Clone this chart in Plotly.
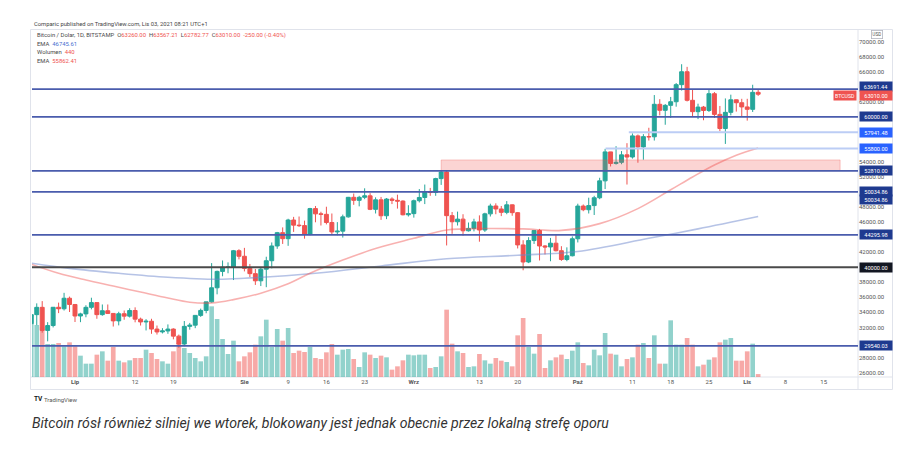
import plotly.graph_objects as go
import pandas as pd

# ---------------- data ----------------
dates = pd.date_range("2021-06-23", "2021-11-03", freq="D")

opens = [
    32500, 33700, 34670, 31600, 32250, 34680, 34480, 35880,
    35050, 33520, 33800, 34670, 35300, 33700, 34220, 33860, 32870, 33820, 33500, 34250, 33100, 32730, 32820, 31780,
    31400, 31530, 31780, 30840, 29790, 32140, 32300, 33600, 34260, 35400, 37270, 39450, 40000, 40030, 42200,
    41460, 39850, 39150, 38200, 39740, 40870, 42830, 44600, 43800, 46280, 45600, 45540, 44400, 47800, 47100, 47040,
    45950, 44700, 44800, 46700, 49300, 48900, 49300, 49500, 47700, 48970, 46850, 49070, 48900, 48800, 46980,
    47130, 48850, 49280, 50030, 49940, 51790, 52660, 46860, 46050, 46400, 44850, 45170, 46030, 44950, 47100, 48150,
    47750, 47300, 48300, 47260, 42970, 40700, 43550, 44890, 42830, 42700, 43200, 42200, 41030, 41530,
    43790, 48140, 47650, 48200, 49240, 51490, 55340, 53800, 53950, 54950, 54660, 57470, 56000, 57370, 57350, 61670,
    60870, 61530, 62010, 64280, 66000, 62200, 60690, 61300, 60850, 63080, 60330, 58450, 60600, 62270, 61880,
    61320, 61000, 63260,
]
highs = [
    34880, 35200, 35500, 32700, 34700, 35300, 36600, 36100,
    35050, 33950, 34950, 35950, 35300, 35050, 35050, 33900, 34080, 34250, 34550, 34670, 33300, 33100, 33150, 32250,
    31900, 32400, 31880, 31050, 32850, 32600, 33620, 34500, 35400, 40550, 39550, 40900, 40650, 42300, 42400,
    42580, 40440, 39780, 39950, 41400, 43300, 44700, 45300, 46450, 46700, 46750, 46200, 47900, 48150, 47380, 48050,
    47150, 46000, 47000, 49350, 49800, 49500, 50500, 49850, 49300, 49350, 49200, 49300, 49650, 48900, 48250,
    49000, 50400, 51000, 50550, 51900, 52800, 52900, 47350, 47400, 47050, 45950, 46450, 46900, 47250, 48450, 48500,
    48150, 48800, 48350, 47350, 43600, 44000, 44950, 45100, 42950, 43900, 44350, 42800, 42650, 44100,
    48450, 48350, 49250, 49500, 51900, 55750, 55350, 56100, 55450, 56500, 57800, 57650, 57700, 58550, 62900,
    62350, 61700, 62650, 64500, 67000, 66650, 63700, 61750, 61450, 63700, 63300, 61450, 62450, 62950, 62300, 62400,
    62400, 64270, 63567.21,
]
lows = [
    31700, 32300, 31300, 30150, 32000, 33900, 34250, 34050,
    32720, 32700, 33350, 34400, 33150, 33550, 33780, 32120, 32270, 33020, 33320, 32680, 32250, 31600, 31150, 31050,
    31200, 31150, 30420, 29300, 29500, 31700, 31900, 33400, 33880, 35300, 36400, 38800, 39200, 38300, 41050,
    39450, 38700, 37650, 37500, 37350, 39850, 42450, 43100, 42850, 44700, 45350, 43800, 44250, 45980, 45550, 45700,
    44400, 44250, 43950, 46600, 48300, 48100, 49050, 47600, 47150, 46300, 46400, 48400, 47800, 46900, 46750,
    46600, 48620, 48400, 49500, 49500, 50950, 42900, 44450, 45550, 44200, 44750, 44770, 43400, 44700, 46750, 47050,
    46800, 47050, 46850, 42500, 39600, 40550, 43100, 40900, 41700, 40800, 42100, 40850, 40800, 41450,
    43300, 47450, 47150, 46950, 49050, 50400, 53400, 53650, 53700, 51000, 54450, 53900, 54300, 56850, 56850,
    60200, 58950, 59850, 61350, 63500, 62050, 60000, 59700, 59550, 60650, 59850, 58100, 56400, 60200, 60700, 60000,
    59500, 60650, 62782.77,
]
closes = [
    33700, 34670, 31600, 32250, 34680, 34480, 35880, 35050,
    33520, 33800, 34670, 35300, 33700, 34220, 33860, 32870, 33820, 33500, 34250, 33100, 32730, 32820, 31780, 31400,
    31530, 31780, 30840, 29790, 32140, 32300, 33600, 34260, 35400, 37270, 39450, 40000, 40030, 42200, 41460,
    39850, 39150, 38200, 39740, 40870, 42830, 44600, 43800, 46280, 45600, 45540, 44400, 47800, 47100, 47040, 45950,
    44700, 44800, 46700, 49300, 48900, 49300, 49500, 47700, 48970, 46850, 49070, 48900, 48800, 46980, 47130,
    48850, 49280, 50030, 49940, 51790, 52660, 46860, 46050, 46400, 44850, 45170, 46030, 44950, 47100, 48150, 47750,
    47300, 48300, 47260, 42970, 40700, 43550, 44890, 42830, 42700, 43200, 42200, 41030, 41530, 43790,
    48140, 47650, 48200, 49240, 51490, 55340, 53800, 53950, 54950, 54660, 57470, 56000, 57370, 57350, 61670,
    60870, 61530, 62010, 64280, 66000, 62200, 60690, 61300, 60850, 63080, 60330, 58450, 60600, 62270, 61880, 61320,
    61000, 63260, 63010,
]
volumes = [
    8000, 7800, 7500, 4950, 4950, 5100, 4600, 5200,
    4600, 3200, 2000, 2000, 3350, 3850, 2450, 4500, 2450, 2200, 2500, 2850, 2850, 4100, 3600, 2700,
    2350, 2000, 3850, 5100, 4350, 3600, 2850, 2350, 3100, 10600, 8700, 5700, 3450, 5450, 2350,
    3100, 3700, 4850, 6100, 8600, 4500, 7200, 5450, 7350, 3600, 3950, 3750, 4500, 2850, 2700, 3700,
    4950, 3350, 4100, 4200, 2700, 1500, 3700, 3350, 2850, 3200, 2950, 1100, 1600, 2500, 3350,
    3250, 3350, 3350, 1350, 1500, 3100, 10100, 5000, 3850, 3600, 1500, 1600, 3450, 2500, 2000, 2850,
    2450, 2250, 1600, 6250, 8850, 4500, 3500, 6450, 1350, 2500, 2950, 3350, 2700, 3950,
    5200, 2100, 1750, 4100, 3250, 6600, 3500, 3350, 1600, 2700, 2950, 4850, 5100, 2850, 6250,
    2000, 2000, 8500, 4850, 4850, 5850, 4850, 1600, 1850, 2600, 2950, 5200, 5600, 5850, 2450, 2450,
    3850, 5000, 440,
]

ema_blue_dates = ["2021-06-23", "2021-06-30", "2021-07-09", "2021-07-18", "2021-07-27", "2021-08-01",
                  "2021-08-14", "2021-08-26", "2021-09-07", "2021-09-20", "2021-10-01", "2021-10-14",
                  "2021-10-23", "2021-11-03"]
ema_blue_values = [40550, 39850, 39200, 38670, 38400, 38530, 39200, 40170, 41140, 41600, 42100, 43850,
                   45100, 46745.61]
ema_red_dates = ["2021-06-23", "2021-06-28", "2021-07-03", "2021-07-08", "2021-07-13", "2021-07-18",
                 "2021-07-22", "2021-07-26", "2021-07-30", "2021-08-04", "2021-08-09", "2021-08-13",
                 "2021-08-19", "2021-08-25", "2021-09-01", "2021-09-07", "2021-09-14", "2021-09-21",
                 "2021-09-28", "2021-10-05", "2021-10-12", "2021-10-18", "2021-10-22", "2021-10-26",
                 "2021-10-30", "2021-11-03"]
ema_red_values = [40400, 39200, 38300, 37500, 36700, 35900, 35350, 35250, 35700, 36550, 37800, 39200,
                  40950, 42500, 43850, 44950, 45150, 45100, 44900, 45800, 47800, 50300, 52000, 53600,
                  54900, 55862.41]

# horizontal levels
level_values = [63691.44, 60000.00, 57941.48, 55800.00, 52810.00, 50034.86, 44295.98, 40000.00, 29540.03]
level_kinds = ["dark", "dark", "light", "light", "dark", "dark", "dark", "black", "dark"]
level_starts = [None, None, "2021-10-10 08:00", "2021-10-06 02:00", None, None, None, None, None]
label_shifts = [2.5, 0, 0, 0, 0, 0, 0, 0, 0]
zone_x = ["2021-09-06", "2021-11-18"]
zone_y = [52840, 54270]
last_price = 63010.00

x_tick_dates = ["2021-07-01", "2021-07-12", "2021-07-19", "2021-08-01", "2021-08-09", "2021-08-16",
                "2021-08-23", "2021-09-01", "2021-09-13", "2021-09-20", "2021-10-01", "2021-10-11",
                "2021-10-18", "2021-10-25", "2021-11-01", "2021-11-08", "2021-11-15"]
x_tick_text = ["<b>Lip</b>", "12", "19", "<b>Sie</b>", "9", "16", "23", "<b>Wrz</b>", "13", "20",
               "<b>Paź</b>", "11", "18", "25", "<b>Lis</b>", "8", "15"]
y_tick_vals = [26000, 28000, 32000, 34000, 36000, 38000, 42000, 46000, 48000, 52000, 54000, 62000,
               66000, 68000, 70000]

# ---------------- layout geometry ----------------
WPX, HPX = 913, 451
L, R, T, B = 32, 55, 30, 74
PW = WPX - L - R
PH = HPX - T - B


def fx(p):
    return (p - L) / PW


def fy(p):
    return 1 - (p - T) / PH


UP = "#26a69a"
DN = "#ef5350"
FONT = "Roboto"

vol_colors = ["rgba(38,166,154,0.5)" if c >= o else "rgba(239,83,80,0.5)" for o, c in zip(opens, closes)]

fig = go.Figure()
fig.add_trace(go.Bar(x=dates, y=volumes, marker=dict(color=vol_colors, line=dict(width=0)),
                     yaxis="y", showlegend=False, hoverinfo="skip"))
fig.add_trace(go.Scatter(x=pd.to_datetime(ema_blue_dates), y=ema_blue_values, yaxis="y2", mode="lines",
                         line=dict(color="rgba(110,135,205,0.5)", width=1.6, shape="spline"),
                         showlegend=False, hoverinfo="skip"))
fig.add_trace(go.Scatter(x=pd.to_datetime(ema_red_dates), y=ema_red_values, yaxis="y2", mode="lines",
                         line=dict(color="rgba(239,83,80,0.45)", width=1.6, shape="spline"),
                         showlegend=False, hoverinfo="skip"))
fig.add_trace(go.Candlestick(x=dates, open=opens, high=highs, low=lows, close=closes, yaxis="y2",
                             increasing=dict(line=dict(color=UP, width=1), fillcolor=UP),
                             decreasing=dict(line=dict(color=DN, width=1), fillcolor=DN),
                             whiskerwidth=0, showlegend=False))

x_range = [pd.Timestamp("2021-06-23 03:10"), pd.Timestamp("2021-11-21 06:30")]
y_range = [25407, 71550]

shapes = []
annotations = []

# pink resistance zone
shapes.append(dict(type="rect", xref="x", yref="y2", x0=zone_x[0], x1=zone_x[1], y0=zone_y[0], y1=zone_y[1],
                   fillcolor="rgba(239,83,80,0.25)", line=dict(color="rgba(239,83,80,0.3)", width=1),
                   layer="above"))

line_styles = {
    "dark": dict(color="#4a5cad", width=1.8),
    "light": dict(color="#bccdf5", width=2),
    "black": dict(color="#4a4a4a", width=2),
}
label_bg = {"dark": "#1e3a8f", "light": "#2962ff", "black": "#131722"}

for val, kind, start in zip(level_values, level_kinds, level_starts):
    if start is None:
        shapes.append(dict(type="line", xref="paper", yref="y2", x0=0, x1=1, y0=val, y1=val,
                           line=line_styles[kind], layer="above"))
    else:
        shapes.append(dict(type="line", xref="x", yref="y2", x0=start, x1=x_range[1], y0=val, y1=val,
                           line=line_styles[kind], layer="above"))


def price_label(val, bg, yshift=0):
    return dict(xref="paper", x=1, xanchor="left", xshift=1, yref="y2", y=val, yanchor="middle",
                yshift=yshift, text=f"{val:.2f}", showarrow=False, bgcolor=bg, width=31, height=8,
                borderpad=0.5, font=dict(family=FONT, size=5.6, color="white"))


for val, kind, ys in zip(level_values, level_kinds, label_shifts):
    annotations.append(price_label(val, label_bg[kind], yshift=ys))
# second stacked label at the 50034.86 level
annotations.append(price_label(level_values[5], label_bg["dark"], yshift=-8))
# current price
annotations.append(price_label(last_price, DN, yshift=-1))
annotations.append(dict(xref="paper", x=1, xanchor="right", xshift=-1, yref="y2", y=last_price,
                        yanchor="middle", yshift=-1, text="BTCUSD", showarrow=False, bgcolor=DN, width=21,
                        height=8, borderpad=0.5, font=dict(family=FONT, size=5.2, color="white")))
# USD box
annotations.append(dict(xref="paper", yref="paper", x=fx(877), y=fy(34.5), xanchor="center",
                        yanchor="middle", text="USD", showarrow=False, bgcolor="white",
                        bordercolor="#b2b5be", borderwidth=0.8, borderpad=0.5, height=6,
                        font=dict(family=FONT, size=4.8, color="#555")))

# frame
shapes.append(dict(type="rect", xref="paper", yref="paper", x0=fx(30.5), x1=fx(892.5), y0=fy(389.5),
                   y1=fy(29.5), line=dict(color="#e0e3eb", width=1), layer="below"))
shapes.append(dict(type="line", xref="paper", yref="paper", x0=1, x1=1, y0=fy(389.5), y1=fy(29.5),
                   line=dict(color="#e0e3eb", width=1), layer="below"))
shapes.append(dict(type="line", xref="paper", yref="paper", x0=fx(30.5), x1=fx(892.5), y0=0, y1=0,
                   line=dict(color="#e0e3eb", width=1), layer="below"))

# header texts
annotations.append(dict(xref="paper", yref="paper", x=fx(32), y=fy(24), xanchor="left", yanchor="middle",
                        text="Comparic published on TradingView.com, Lis 03, 2021 08:21 UTC+1",
                        showarrow=False, font=dict(family=FONT, size=5.8, color="#444")))
red = "#ef5350"
sp = "&nbsp;"
legend_lines = [
    f"Bitcoin / Dolar, 1D, BITSTAMP{sp}{sp}O<span style='color:{red}'>63260.00</span>{sp}{sp}"
    f"H<span style='color:{red}'>63567.21</span>{sp}{sp}L<span style='color:{red}'>62782.77</span>{sp}{sp}"
    f"C<span style='color:{red}'>63010.00</span>{sp}{sp}<span style='color:{red}'>-250.00 (-0.40%)</span>",
    "EMA<span style='color:#4a6fd0'>" + sp + sp + "46745.61</span>",
    f"Wolumen{sp}{sp}<span style='color:{red}'>440</span>",
    f"EMA{sp}{sp}<span style='color:{red}'>55862.41</span>",
]
legend_y = [35.7, 43.7, 52.2, 60.6]
for txt, yy in zip(legend_lines, legend_y):
    annotations.append(dict(xref="paper", yref="paper", x=fx(35), y=fy(yy), xanchor="left", yanchor="middle",
                            text=txt, showarrow=False, font=dict(family=FONT, size=5.9, color="#4a4a4a")))

# TradingView logo and caption
annotations.append(dict(xref="paper", yref="paper", x=fx(32), y=fy(399.3), xanchor="left", yanchor="middle",
                        text="<b>TV</b>", showarrow=False, font=dict(family=FONT, size=6.5, color="#131722")))
annotations.append(dict(xref="paper", yref="paper", x=fx(42), y=fy(399.3), xanchor="left", yanchor="middle",
                        text="TradingView", showarrow=False, font=dict(family=FONT, size=6, color="#555")))
annotations.append(dict(xref="paper", yref="paper", x=fx(30), y=fy(422.5), xanchor="left", yanchor="middle",
                        text="<i>Bitcoin rósł również silniej we wtorek, blokowany jest jednak obecnie przez "
                             "lokalną strefę oporu</i>",
                        showarrow=False, font=dict(family=FONT, size=14.1, color="#333")))

fig.update_layout(
    width=WPX, height=HPX,
    margin=dict(l=L, r=R, t=T, b=B, autoexpand=False),
    paper_bgcolor="white", plot_bgcolor="white",
    showlegend=False,
    bargap=0.15,
    boxgap=0.2, boxgroupgap=0.1,
    xaxis=dict(type="date", range=x_range, rangeslider=dict(visible=False), showgrid=False,
               zeroline=False, showline=False, ticks="", tickvals=pd.to_datetime(x_tick_dates),
               ticktext=x_tick_text, tickfont=dict(family=FONT, size=6, color="#555"), automargin=False),
    yaxis=dict(range=[0, PH * 150], visible=False, fixedrange=True, automargin=False),
    yaxis2=dict(overlaying="y", side="right", range=y_range, showgrid=False, zeroline=False,
                showline=False, ticks="", tickvals=y_tick_vals, tickformat=".2f",
                tickfont=dict(family=FONT, size=6, color="#555"), automargin=False),
    shapes=shapes,
    annotations=annotations,
)

fig.write_html("out.html")
